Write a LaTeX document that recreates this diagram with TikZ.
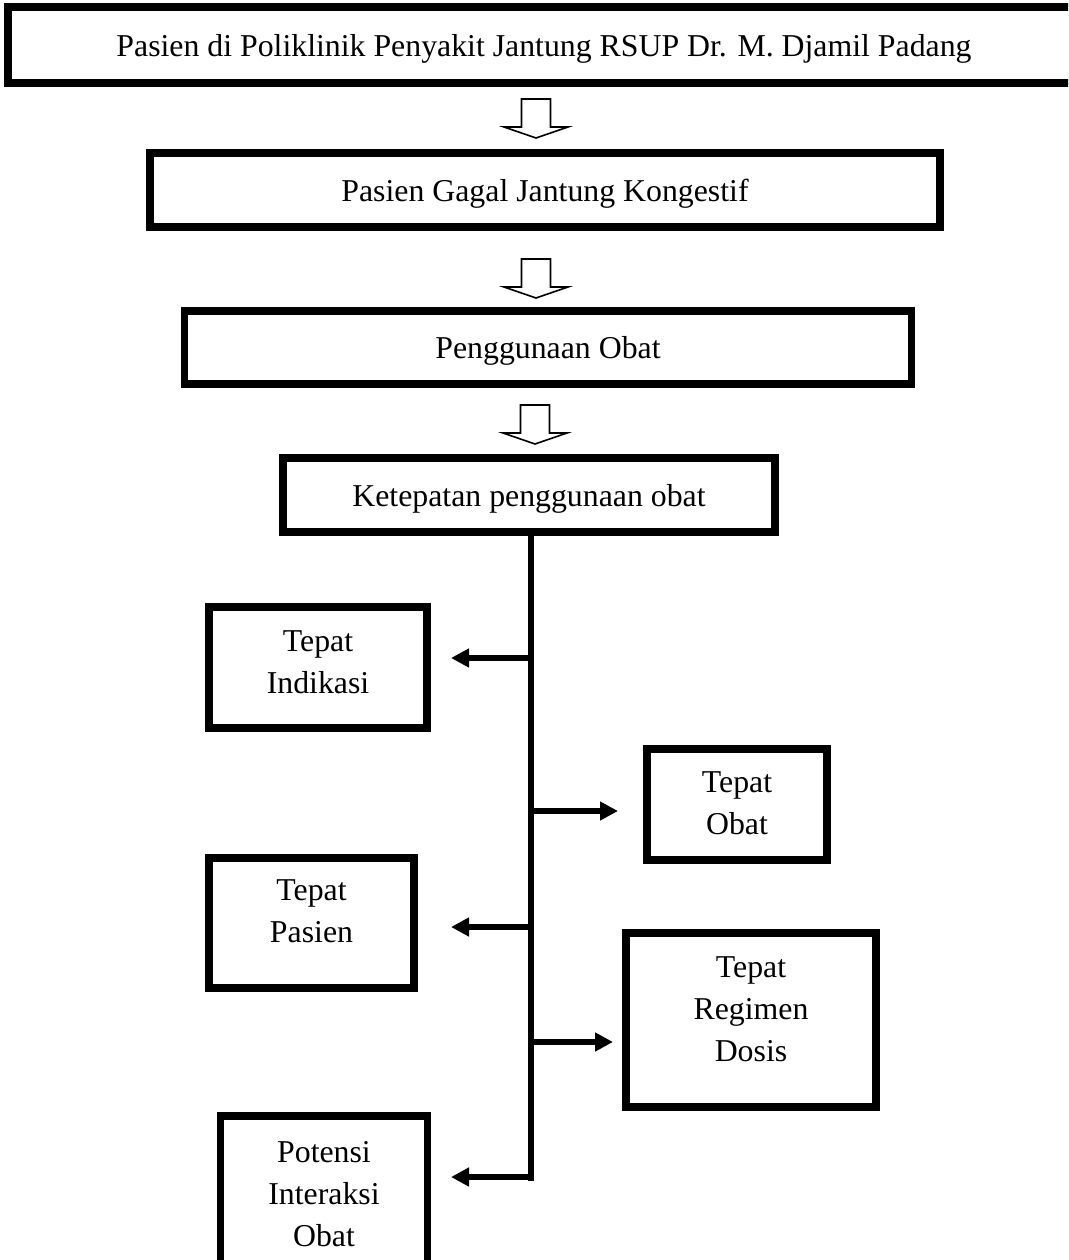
\documentclass[tikz,border=0pt]{standalone}
\usepackage{fontspec}
\setmainfont{Liberation Serif}
\usetikzlibrary{arrows.meta}
\tikzset{
  box/.style={draw, line width=7.5pt, rectangle, inner sep=0pt, align=center,
    font=\fontsize{31.8}{42}\selectfont},
  onebox/.style={box, text depth=0pt},
  txt/.style={inner sep=0pt, align=center, font=\fontsize{31.8}{42}\selectfont},
  branch/.style={line width=6.5pt, -{Triangle[length=18pt,width=18pt]}},
  trunk/.style={line width=6.5pt},
  blockarrow/.pic={\draw[line width=1.6pt, line join=miter, fill=white]
    (-14.5,0) -- (14.5,0) -- (14.5,28) -- (32,28) -- (0,39) -- (-32,28) -- (-14.5,28) -- cycle;}
}
\begin{document}
\begin{tikzpicture}[x=1pt,y=-1pt]
\useasboundingbox (0,0) rectangle (1068,1260);
\clip (0,0) rectangle (1068,1260);
\fill[white] (0,0) rectangle (1068,1260);

\node[onebox, minimum width=1072pt, minimum height=76pt] (b1) at (544,45)
  {Pasien di Poliklinik Penyakit Jantung RSUP Dr. M. Djamil Padang};
\node[onebox, minimum width=790pt, minimum height=74pt] (b2) at (545,190)
  {Pasien Gagal Jantung Kongestif};
\node[onebox, minimum width=727pt, minimum height=73pt] (b3) at (548,347.5)
  {Penggunaan Obat};
\node[onebox, minimum width=492pt, minimum height=74pt] (b4) at (529,495)
  {Ketepatan penggunaan obat};

\pic at (536,99) {blockarrow};
\pic at (536,259) {blockarrow};
\pic at (535,405) {blockarrow};

\node[box, minimum width=218pt, minimum height=121pt] (ind) at (318,667.5) {};
\node[txt] (ind-t) at (318,662) {Tepat\\Indikasi};
\node[box, minimum width=180pt, minimum height=111pt] (obt) at (737,804.5) {};
\node[txt] (obt-t) at (737,803.5) {Tepat\\Obat};
\node[box, minimum width=205pt, minimum height=130pt] (pas) at (311.5,923) {};
\node[txt] (pas-t) at (311.5,911.5) {Tepat\\Pasien};
\node[box, minimum width=250pt, minimum height=174pt] (reg) at (751,1020) {};
\node[txt] (reg-t) at (751,1009.5) {Tepat\\Regimen\\Dosis};
\node[box, minimum width=207pt, minimum height=160pt] (pot) at (324,1196) {};
\node[txt] (pot-t) at (324,1194) {Potensi\\Interaksi\\Obat};

\coordinate (tend) at (531,1180.5);
\draw[trunk] (b4.south -| tend) -- (tend);

\coordinate (j1) at (531,658);
\coordinate (j2) at (531,811);
\coordinate (j3) at (531,927);
\coordinate (j4) at (531,1042);
\coordinate (j5) at (531,1177);
\coordinate (e1) at (451,658);
\coordinate (e2) at (618,811);
\coordinate (e3) at (451,927);
\coordinate (e4) at (613,1042);
\coordinate (e5) at (451,1177);
\draw[branch] (j1) -- (e1);
\draw[branch] (j2) -- (e2);
\draw[branch] (j3) -- (e3);
\draw[branch] (j4) -- (e4);
\draw[branch] (j5) -- (e5);
\end{tikzpicture}
\end{document}
